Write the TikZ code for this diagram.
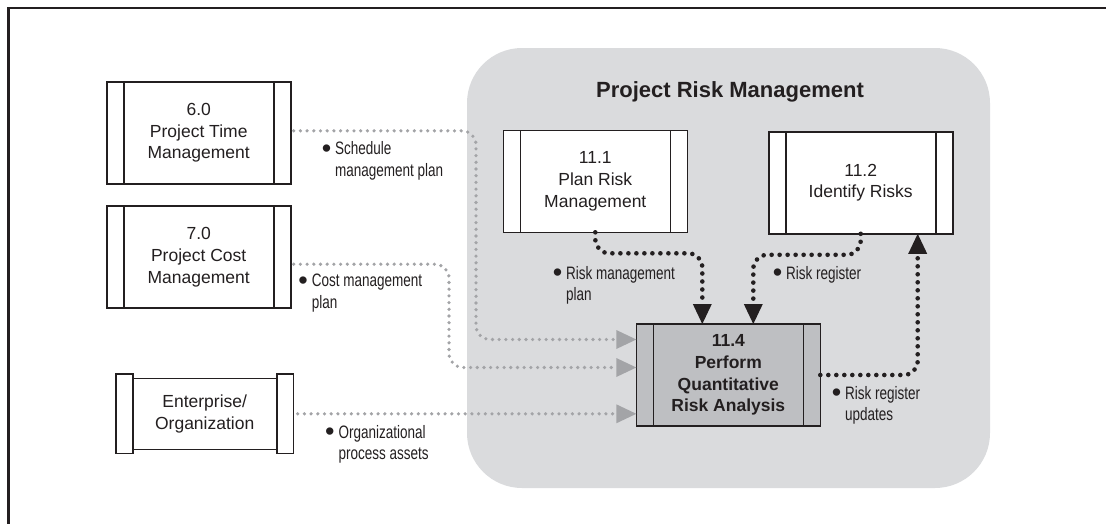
\documentclass[tikz,border=0pt]{standalone}
\usepackage{fontspec}
\usepackage{graphicx}
\setmainfont{Liberation Sans}
\newfontfamily\narrowfont[FakeStretch=0.75]{Liberation Sans}
\usetikzlibrary{arrows.meta}
\definecolor{inkdark}{RGB}{35,31,32}
\definecolor{riskarea}{RGB}{218,219,221}
\definecolor{focusfill}{RGB}{190,191,194}
\definecolor{flowgray}{RGB}{163,164,167}
\newcommand{\itemdot}{\llap{{\normalfont\raisebox{-2.5pt}{\scalebox{1.5}{\textbullet}}}\hspace{4pt}}}
\begin{document}
\begin{tikzpicture}[x=1pt,y=-1pt,
  every node/.style={text=inkdark},
  procbox/.style={draw=inkdark,line width=1.6pt,fill=white,outer sep=0pt,inner sep=0pt,
    minimum width=184pt,minimum height=102pt,align=center,font=\fontsize{17.5}{21.7}\selectfont,
    path picture={\draw[inkdark,line width=1.6pt]
      ([xshift=17pt]path picture bounding box.north west) -- ([xshift=17pt]path picture bounding box.south west)
      ([xshift=-17pt]path picture bounding box.north east) -- ([xshift=-17pt]path picture bounding box.south east);}},
  entbox/.style={draw=inkdark,line width=1.6pt,fill=white,outer sep=0pt,inner sep=0pt,
    minimum width=144pt,minimum height=71pt,align=center,font=\fontsize{17.5}{21.7}\selectfont},
  lab/.style={anchor=north west,inner sep=0pt,align=left,font=\narrowfont\fontsize{18}{21.7}\selectfont},
  grayflow/.style={draw=flowgray,line width=3.6pt,line cap=round,dash pattern=on 0pt off 6.7pt,
    rounded corners=14pt,-{Triangle[length=20pt,width=19pt,line width=0pt]}},
  blackflow/.style={draw=inkdark,line width=4.6pt,line cap=round,dash pattern=on 0pt off 8pt,
    rounded corners=14pt,-{Triangle[length=20pt,width=19pt,line width=0pt]}}]
\useasboundingbox (0,0) rectangle (1106,523);
\draw[line width=2.2pt,inkdark] (8.5,540) -- (8.5,8) -- (1120,8);
\fill[riskarea,rounded corners=55pt] (467,48) rectangle (990,488);
\node[font=\bfseries\fontsize{22}{26}\selectfont] (title) at (730,91.7) {Project Risk Management};
% processes
\node[procbox] (t60) at (198.7,132.8) {6.0\\Project Time\\Management};
\node[procbox] (t70) at (198.7,257.2) {7.0\\Project Cost\\Management};
\node[procbox] (p111) at (595.3,181.3) {11.1\\Plan Risk\\Management};
\node[procbox] (p112) at (860.7,182.8) {11.2\\Identify Risks};
\node[procbox,fill=focusfill,font=\bfseries\fontsize{17.5}{21.7}\selectfont] (q114) at (728.3,375) {11.4\\Perform\\Quantitative\\Risk Analysis};
\node[entbox] (ent) at (204.7,413.8) {Enterprise/\\Organization};
\draw[inkdark,line width=1.6pt,fill=white] ([xshift=-16.7pt,yshift=4.3pt]ent.north west) rectangle ([yshift=-4.3pt]ent.south west);
\draw[inkdark,line width=1.6pt,fill=white] ([xshift=16.7pt,yshift=4.3pt]ent.north east) rectangle ([yshift=-4.3pt]ent.south east);
% flows
\draw[grayflow] ([xshift=3pt,yshift=2pt]t60.east) -| (476,339.5) -- ([yshift=35.5pt]q114.west);
\draw[grayflow] ([xshift=3pt,yshift=-7pt]t70.east) -| (449,367.5) -- ([yshift=7.5pt]q114.west);
\draw[grayflow] ([xshift=21pt]ent.east) -- (ent.east -| q114.west);
\draw[blackflow] (p111.south) -- ++(0,21) -| ([xshift=-26pt]q114.north);
\draw[blackflow] (p112.south) -- ++(0,21) -| ([xshift=25pt]q114.north);
\draw[blackflow] (q114.east) -| ([xshift=57pt]p112.south);
% labels
\node[lab] (lsched) at (335,141.7) {\itemdot Schedule\\management plan};
\node[lab] (lcost) at (311.7,274) {\itemdot Cost management\\plan};
\node[lab] (lorg) at (338.3,425) {\itemdot Organizational\\process assets};
\node[lab] (lplan) at (566,266) {\itemdot Risk management\\plan};
\node[lab] (lreg) at (786,266) {\itemdot Risk register};
\node[lab] (lupd) at (845,386) {\itemdot Risk register\\updates};
\end{tikzpicture}
\end{document}
